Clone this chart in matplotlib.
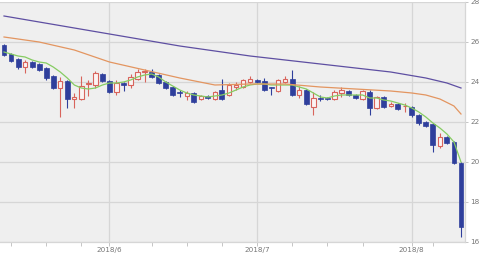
import matplotlib
matplotlib.use("Agg")
import matplotlib.pyplot as plt
import numpy as np
import pandas as pd

# trading days shown on the chart (66 sessions)
dates = pd.bdate_range("2018-05-11", periods=66)

# OHLC
opens = [25.85, 25.4, 25.15, 24.75, 25.0, 24.9, 24.7, 24.3, 23.7, 24.05,
         23.15, 23.15, 23.9, 23.85, 24.4, 24.05, 23.5, 23.95, 23.85, 24.15,
         24.5, 24.5, 24.35, 24.0, 23.75, 23.47, 23.3, 23.45, 23.15, 23.3,
         23.15, 23.6, 23.35, 23.75, 23.75, 24.0, 24.1, 24.05, 23.72, 23.55,
         24.0, 24.15, 23.35, 23.6, 22.75, 23.2, 23.2, 23.15, 23.45, 23.55,
         23.35, 23.15, 23.5, 22.7, 23.25, 22.8, 22.9, 22.78, 22.75, 22.35,
         22.0, 21.9, 20.8, 21.25, 21.0, 19.95]
highs = [25.9, 25.45, 25.2, 25.1, 25.05, 24.95, 24.75, 24.35, 24.25, 24.1,
         23.45, 24.3, 24.1, 24.55, 24.45, 24.1, 24.1, 24.0, 24.4, 24.65,
         24.65, 24.65, 24.4, 24.05, 23.8, 23.6, 23.55, 23.5, 23.35, 23.35,
         23.55, 24.15, 23.95, 24.0, 24.15, 24.3, 24.15, 24.2, 23.75, 24.15,
         24.3, 24.6, 23.8, 23.65, 23.5, 23.35, 23.25, 23.6, 23.75, 23.6,
         23.4, 23.6, 23.6, 23.3, 23.3, 23.0, 22.95, 22.95, 22.8, 22.4,
         22.05, 21.95, 21.45, 21.3, 21.05, 20.0]
lows = [25.3, 25.0, 24.65, 24.45, 24.7, 24.55, 24.1, 23.65, 22.25, 22.7,
        22.7, 23.1, 23.3, 23.7, 24.0, 23.45, 23.35, 23.55, 23.7, 24.1,
        24.0, 24.2, 23.9, 23.65, 23.3, 23.25, 23.1, 22.95, 23.1, 23.15,
        23.1, 23.1, 23.3, 23.6, 23.7, 23.95, 23.95, 23.55, 23.35, 23.5,
        23.95, 23.3, 23.2, 22.85, 22.35, 23.05, 23.1, 23.1, 23.25, 23.3,
        23.15, 23.1, 22.35, 22.65, 22.7, 22.75, 22.6, 22.5, 22.25, 21.85,
        21.75, 20.5, 20.7, 20.9, 19.9, 16.25]
closes = [25.35, 25.05, 24.75, 25.0, 24.75, 24.6, 24.2, 23.7, 24.05, 23.15,
          23.25, 23.8, 23.95, 24.45, 24.05, 23.5, 23.95, 23.85, 24.25, 24.5,
          24.55, 24.25, 23.95, 23.7, 23.35, 23.45, 23.45, 23.0, 23.3, 23.2,
          23.5, 23.15, 23.85, 23.85, 24.1, 24.15, 24.0, 23.6, 23.7, 24.1,
          24.15, 23.35, 23.6, 22.9, 23.2, 23.15, 23.15, 23.5, 23.6, 23.35,
          23.2, 23.55, 22.7, 23.25, 22.75, 22.9, 22.65, 22.8, 22.35, 21.95,
          21.8, 20.85, 21.25, 20.95, 19.95, 16.75]

# moving average lines
ma_short = [25.5, 25.4, 25.3, 25.25, 25.1, 25.0, 24.95, 24.75, 24.5, 24.2,
            23.85, 23.7, 23.65, 23.7, 23.85, 23.95, 23.95, 24.0, 24.1, 24.25,
            24.35, 24.4, 24.25, 24.0, 23.8, 23.6, 23.45, 23.35, 23.3, 23.25,
            23.3, 23.35, 23.45, 23.6, 23.75, 23.85, 23.9, 23.9, 23.85, 23.85,
            23.85, 23.85, 23.75, 23.65, 23.45, 23.25, 23.2, 23.3, 23.35, 23.35,
            23.35, 23.35, 23.2, 23.2, 23.1, 23.05, 22.95, 22.85, 22.7, 22.5,
            22.25, 21.95, 21.7, 21.4, 21.0, 20.0]
ma_mid_idx = [0, 5, 10, 15, 20, 25, 30, 35, 40, 45, 50, 55, 58, 60, 62, 64, 65]
ma_mid = [26.25, 26.0, 25.6, 25.0, 24.6, 24.2, 23.85, 23.9, 23.9, 23.75,
          23.65, 23.55, 23.45, 23.35, 23.15, 22.8, 22.4]
ma_long_idx = [0, 5, 10, 15, 20, 25, 30, 35, 40, 45, 50, 55, 60, 63, 65]
ma_long = [27.3, 27.0, 26.7, 26.4, 26.1, 25.8, 25.55, 25.3, 25.1, 24.9,
           24.7, 24.5, 24.2, 23.95, 23.7]

up_color = "#d8645c"
down_color = "#2f3f9c"
bg_color = "#efefef"
grid_color = "#d6d6d6"
text_color = "#777777"

fig = plt.figure(figsize=(4.8, 2.54), dpi=100)
ax = fig.add_axes([0, 12 / 254, 465 / 480, 240 / 254])
ax.set_facecolor(bg_color)

x = np.arange(len(dates))
o = np.array(opens)
c = np.array(closes)
rising = c >= o

# wicks
ax.vlines(x[rising], np.array(lows)[rising], np.array(highs)[rising],
          color=up_color, linewidth=0.8, zorder=2)
ax.vlines(x[~rising], np.array(lows)[~rising], np.array(highs)[~rising],
          color=down_color, linewidth=0.8, zorder=2)

# bodies
body = np.maximum(np.abs(c - o), 0.04)
bottom = np.minimum(o, c)
ax.bar(x[rising], body[rising], bottom=bottom[rising], width=0.62,
       facecolor="#fbf3f3", edgecolor=up_color, linewidth=0.8, zorder=3)
ax.bar(x[~rising], body[~rising], bottom=bottom[~rising], width=0.7,
       facecolor=down_color, edgecolor=down_color, linewidth=0.5, zorder=3)

# moving averages
ax.plot(x, ma_short, color="#86cc62", linewidth=0.9, zorder=4)
ax.plot(ma_mid_idx, ma_mid, color="#e39560", linewidth=0.9, zorder=4)
ax.plot(ma_long_idx, ma_long, color="#5e4fa2", linewidth=0.9, zorder=4)

ax.set_xlim(-0.57, 65.57)
ax.set_ylim(16, 28)

# month ticks and weekly minor ticks
month_pos = [i for i in range(1, len(dates)) if dates[i].month != dates[i - 1].month]
month_lbl = [f"{dates[i].year}/{dates[i].month}" for i in month_pos]
week_pos = [i for i in range(len(dates)) if dates[i].weekday() == 0
            and min(abs(i - m) for m in month_pos) > 2]
ax.set_xticks(month_pos)
ax.set_xticklabels(month_lbl)
ax.set_xticks(week_pos, minor=True)

ax.yaxis.tick_right()
ax.set_yticks(range(16, 29, 2))

ax.grid(True, which="major", color=grid_color, linewidth=0.9, zorder=0)
ax.set_axisbelow(True)
ax.tick_params(axis="both", which="both", colors="#bbbbbb", labelcolor=text_color,
               labelsize=5.2, length=3, width=0.6, pad=0.5)
ax.tick_params(axis="y", length=2, pad=2)

for side in ["left", "top"]:
    ax.spines[side].set_visible(False)
for side in ["right", "bottom"]:
    ax.spines[side].set_color(grid_color)
    ax.spines[side].set_linewidth(0.9)

fig.savefig("out.png", dpi=100)
